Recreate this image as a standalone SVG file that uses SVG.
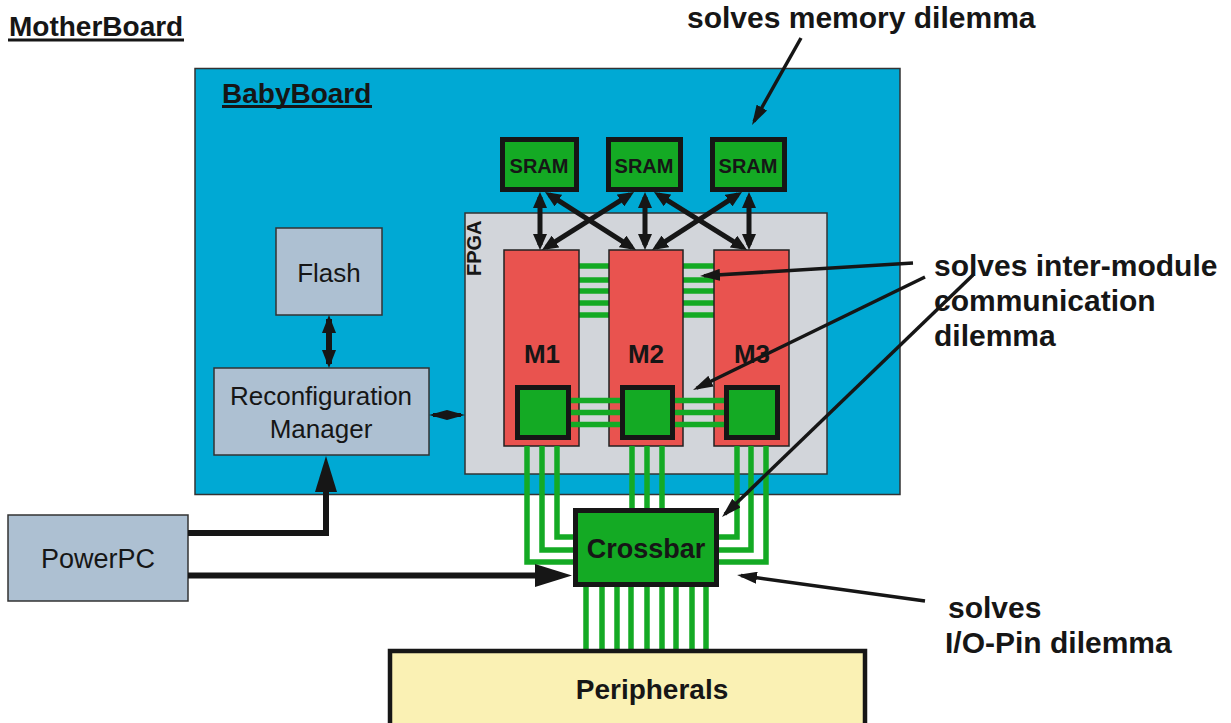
<svg xmlns="http://www.w3.org/2000/svg" width="1231" height="723" viewBox="0 0 1231 723">
<defs>
<style>
text{font-family:"Liberation Sans",Arial,Helvetica,sans-serif;fill:#161616}
.b{font-weight:bold}
.gl{stroke:#14AA24;stroke-width:5.5;fill:none}
.sa{stroke:#161616;stroke-width:5;fill:none;marker-start:url(#ms);marker-end:url(#ms)}
.ann{stroke:#161616;stroke-width:3.5;fill:none;marker-end:url(#ma)}
.gbox{fill:#14AA24;stroke:#161616;stroke-width:5}
.mod{fill:#E9534F;stroke:#222;stroke-width:1.5}
.slate{fill:#ADC0D2;stroke:#333;stroke-width:1.5}
</style>
<marker id="ms" markerUnits="userSpaceOnUse" markerWidth="16" markerHeight="14" viewBox="0 0 16 14" refX="11" refY="7" orient="auto-start-reverse"><path d="M0,0 L16,7 L0,14 z" fill="#161616"/></marker>
<marker id="mf" markerUnits="userSpaceOnUse" markerWidth="18" markerHeight="14" viewBox="0 0 18 14" refX="14" refY="7" orient="auto-start-reverse"><path d="M0,0 L18,7 L0,14 z" fill="#161616"/></marker>
<marker id="mr" markerUnits="userSpaceOnUse" markerWidth="18" markerHeight="10" viewBox="0 0 18 10" refX="14" refY="5" orient="auto-start-reverse"><path d="M0,0 L18,5 L0,10 z" fill="#161616"/></marker>
<marker id="ma" markerUnits="userSpaceOnUse" markerWidth="20" markerHeight="12" viewBox="0 0 20 12" refX="16" refY="6" orient="auto"><path d="M0,0 L20,6 L0,12 z" fill="#161616"/></marker>
</defs>
<rect width="1231" height="723" fill="#ffffff"/>

<g id="motherboard-label">
<text x="9" y="36" font-size="28" class="b">MotherBoard</text>
<rect x="8" y="38.5" width="176" height="3" fill="#161616"/>
</g>

<g id="babyboard">
<rect x="195" y="68.5" width="705" height="426" fill="#00A9D4" stroke="#333" stroke-width="1.5"/>
<text x="222" y="103" font-size="28" class="b">BabyBoard</text>
<rect x="222" y="105" width="150" height="3" fill="#161616"/>
</g>

<g id="fpga">
<rect x="465" y="213" width="362" height="261" fill="#D2D5DA" stroke="#333" stroke-width="1.5"/>
<text transform="translate(481,276) rotate(-90)" font-size="20" class="b">FPGA</text>
</g>

<g id="connectors">
<g class="gl">
<path d="M579,266H609M579,280H609M579,291H609M579,303H609M579,315H609"/>
<path d="M683,266H714M683,280H714M683,291H714M683,303H714M683,315H714"/>
</g>
</g>

<g id="m1">
<rect class="mod" x="504" y="250" width="75" height="196"/>
<text x="542" y="363" font-size="26" class="b" text-anchor="middle">M1</text>
</g>
<g id="m2">
<rect class="mod" x="609" y="250" width="74" height="196"/>
<text x="646" y="363" font-size="26" class="b" text-anchor="middle">M2</text>
</g>
<g id="m3">
<rect class="mod" x="714" y="250" width="75" height="196"/>
<text x="752" y="363" font-size="26" class="b" text-anchor="middle">M3</text>
</g>

<g id="links">
<g class="gl">
<path d="M571,400.5H620M571,412.5H620M571,424.5H620"/>
<path d="M675,400.5H724M675,412.5H724M675,424.5H724"/>
<path d="M527,446V562H576M542,446V550H576M557,446V537H576"/>
<path d="M632,446V510M647,446V510M662,446V510"/>
<path d="M737,446V537H716M751,446V550H716M766,446V562H716"/>
<path d="M586,586V651M602,586V651M617,586V651M631,586V651M647,586V651M662,586V651M676,586V651M692,586V651M706,586V651"/>
</g>
</g>

<g id="m1-port"><rect class="gbox" x="517.5" y="387.5" width="51" height="50"/></g>
<g id="m2-port"><rect class="gbox" x="622.5" y="387.5" width="50" height="50"/></g>
<g id="m3-port"><rect class="gbox" x="726.5" y="387.5" width="51" height="50"/></g>

<g id="sram1">
<rect class="gbox" x="502.5" y="139.5" width="74" height="50"/>
<text x="539" y="173" font-size="20" class="b" text-anchor="middle">SRAM</text>
</g>
<g id="sram2">
<rect class="gbox" x="608.5" y="139.5" width="72" height="50"/>
<text x="644" y="173" font-size="20" class="b" text-anchor="middle">SRAM</text>
</g>
<g id="sram3">
<rect class="gbox" x="712.5" y="139.5" width="72" height="50"/>
<text x="748" y="173" font-size="20" class="b" text-anchor="middle">SRAM</text>
</g>

<g id="flash">
<rect class="slate" x="276" y="228" width="106" height="87"/>
<text x="329" y="282" font-size="26" text-anchor="middle">Flash</text>
</g>

<g id="reconfiguration-manager">
<rect class="slate" x="214" y="368" width="215" height="87"/>
<text x="321" y="405" font-size="26" text-anchor="middle">Reconfiguration</text>
<text x="321" y="438" font-size="26" text-anchor="middle">Manager</text>
</g>

<g id="powerpc">
<rect class="slate" x="8" y="515" width="180" height="86"/>
<text x="98" y="568" font-size="27" text-anchor="middle">PowerPC</text>
</g>

<g id="crossbar">
<rect class="gbox" x="575.5" y="510.5" width="141" height="74"/>
<text x="646" y="558" font-size="27" class="b" text-anchor="middle">Crossbar</text>
</g>

<g id="peripherals">
<rect x="390" y="651" width="475" height="80" fill="#FAF1B4" stroke="#161616" stroke-width="4.5"/>
<text x="652" y="699" font-size="28" class="b" text-anchor="middle">Peripherals</text>
</g>

<g id="arrows">
<line class="sa" x1="540" y1="197" x2="540" y2="245"/>
<line class="sa" x1="549.2" y1="194.7" x2="631.8" y2="247.3"/>
<line class="sa" x1="629.8" y1="194.7" x2="546.2" y2="247.3"/>
<line class="sa" x1="645" y1="197" x2="645" y2="245"/>
<line class="sa" x1="658.2" y1="194.6" x2="742.8" y2="247.4"/>
<line class="sa" x1="737.8" y1="194.7" x2="656.2" y2="247.3"/>
<line class="sa" x1="749" y1="197" x2="749" y2="245"/>
<line x1="329" y1="319" x2="329" y2="364" stroke="#161616" stroke-width="6" marker-start="url(#mf)" marker-end="url(#mf)"/>
<line x1="433" y1="415" x2="461" y2="415" stroke="#161616" stroke-width="4" marker-start="url(#mr)" marker-end="url(#mr)"/>
<polyline points="188,533 326,533 326,488" fill="none" stroke="#161616" stroke-width="6"/>
<polygon points="326,456 315,492 337,492" fill="#161616"/>
<line x1="188" y1="575.5" x2="538" y2="575.5" stroke="#161616" stroke-width="6"/>
<polygon points="572,575.5 535,564 535,587" fill="#161616"/>
</g>

<g id="annotations">
<text x="687" y="28" font-size="30" class="b">solves memory dilemma</text>
<line class="ann" x1="801" y1="38" x2="754" y2="121.5"/>
<text x="934" y="276" font-size="30" class="b">solves inter-module</text>
<text x="934" y="311" font-size="30" class="b">communication</text>
<text x="934" y="346" font-size="30" class="b">dilemma</text>
<line class="ann" x1="913" y1="263" x2="704" y2="275.8"/>
<line class="ann" x1="925" y1="277" x2="696.6" y2="388.2"/>
<line class="ann" x1="973" y1="275" x2="724.9" y2="514.2"/>
<text x="948" y="618" font-size="30" class="b">solves</text>
<text x="945" y="653" font-size="30" class="b">I/O-Pin dilemma</text>
<line class="ann" x1="925" y1="601" x2="741" y2="575.5"/>
</g>
</svg>
